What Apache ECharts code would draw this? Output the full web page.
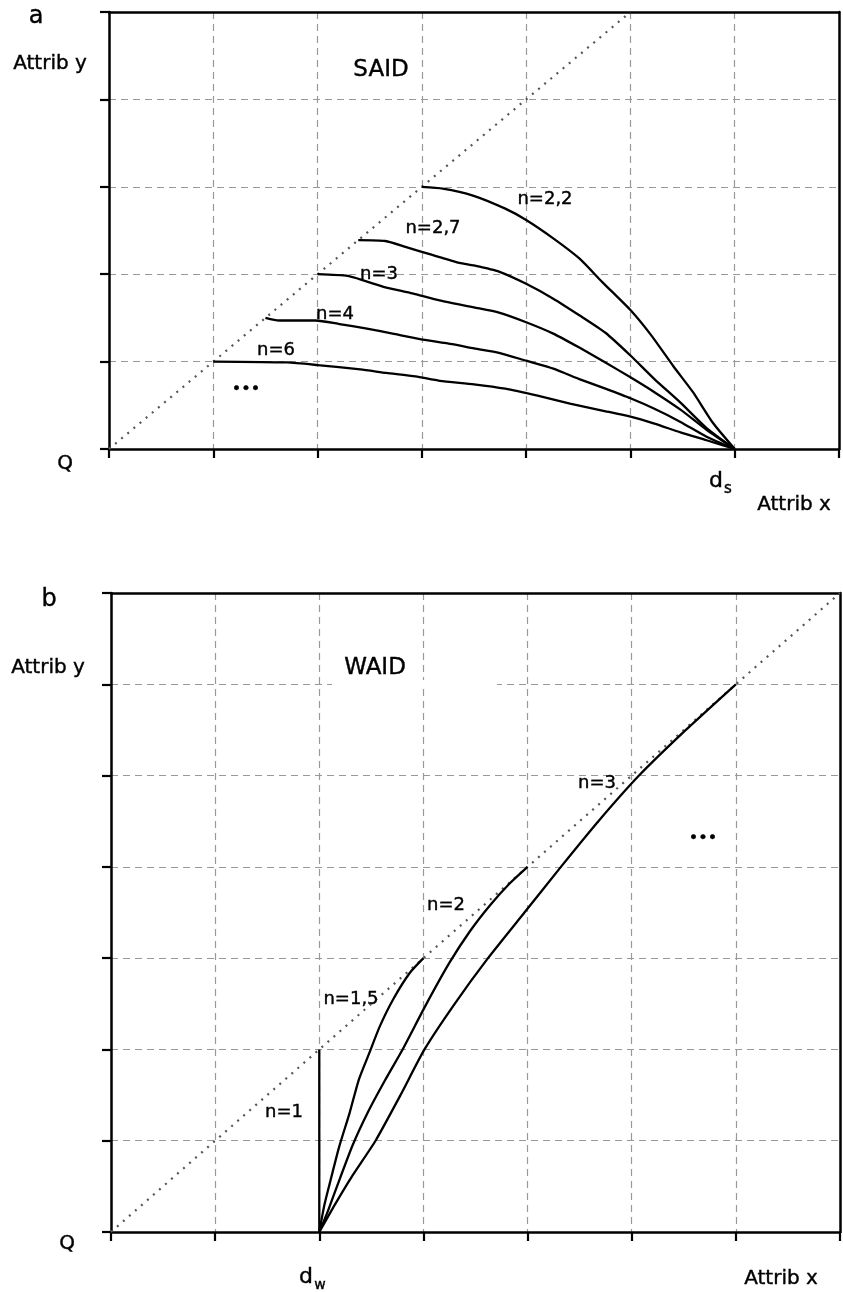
<!DOCTYPE html>
<html>
<head>
<meta charset="utf-8">
<script src="https://cdn.jsdelivr.net/npm/echarts@6/dist/echarts.min.js"></script>
<style>
  html, body { margin: 0; padding: 0; background: #fff; }
  #chart { width: 843px; height: 1292px; }
</style>
</head>
<body>
<div id="chart"></div>
<script>
// panel a (SAID): curves from the diagonal down to d_s = 6
const saidDiagonal = [[0, 0], [5, 5]]
const saidN22 = [[3, 3], [3.2, 2.98], [3.49, 2.9], [3.8, 2.75], [4, 2.62], [4.26, 2.41], [4.51, 2.18], [4.73, 1.91], [5, 1.59], [5.2, 1.3], [5.41, 0.95], [5.6, 0.65], [5.79, 0.3], [6, 0]]
const saidN27 = [[2.39, 2.39], [2.65, 2.38], [2.85, 2.31], [3.1, 2.22], [3.36, 2.13], [3.5, 2.1], [3.74, 2.03], [4, 1.89], [4.26, 1.72], [4.51, 1.53], [4.76, 1.33], [5, 1.07], [5.23, 0.8], [5.48, 0.53], [5.73, 0.24], [6, 0]]
const saidN3 = [[2, 2], [2.29, 1.98], [2.46, 1.92], [2.65, 1.85], [2.91, 1.78], [3.17, 1.7], [3.5, 1.62], [3.74, 1.56], [4, 1.45], [4.26, 1.32], [4.51, 1.16], [4.76, 0.99], [5, 0.82], [5.23, 0.65], [5.48, 0.45], [5.73, 0.22], [6, 0]]
const saidN4 = [[1.5, 1.5], [1.63, 1.47], [1.98, 1.47], [2.21, 1.43], [2.46, 1.38], [2.72, 1.32], [2.97, 1.26], [3.29, 1.2], [3.5, 1.15], [3.74, 1.1], [4, 1.01], [4.26, 0.92], [4.51, 0.8], [4.76, 0.69], [5, 0.58], [5.23, 0.46], [5.48, 0.31], [5.73, 0.14], [6, 0]]
const saidN6 = [[1, 1], [1.71, 0.99], [2, 0.96], [2.41, 0.91], [2.66, 0.87], [2.94, 0.83], [3.17, 0.78], [3.5, 0.74], [3.8, 0.69], [4.11, 0.61], [4.42, 0.52], [4.73, 0.44], [5, 0.37], [5.23, 0.29], [5.48, 0.19], [5.73, 0.1], [6, 0]]

// panel b (WAID): curves from d_w = 2 up to the diagonal
const waidDiagonal = [[0, 0], [7, 7]]
const waidN1 = [[2, 0], [2, 2]]
const waidN15 = [[2, 0], [2.05, 0.3], [2.1, 0.53], [2.19, 0.93], [2.29, 1.3], [2.38, 1.67], [2.48, 1.96], [2.58, 2.25], [2.71, 2.55], [2.87, 2.84], [3, 3]]
const waidN2 = [[2, 0], [2.08, 0.22], [2.17, 0.5], [2.32, 0.95], [2.47, 1.32], [2.63, 1.66], [2.8, 2], [3.02, 2.48], [3.25, 2.95], [3.45, 3.3], [3.64, 3.58], [3.83, 3.82], [4, 4]]
const waidN3 = [[2, 0], [2.15, 0.3], [2.32, 0.62], [2.54, 1], [2.78, 1.5], [3.01, 2], [3.3, 2.5], [3.62, 3], [3.97, 3.5], [4.32, 4], [4.68, 4.5], [5.07, 5], [5.52, 5.5], [6, 6]]

const FONT = 'DejaVu Sans'

const chart = echarts.init(document.getElementById('chart'))

function axis (gridIndex, max, position) {
  return {
    type: 'value',
    gridIndex,
    position,
    min: 0,
    max,
    interval: 1,
    axisLine: { onZero: false, lineStyle: { color: '#000', width: 2.5 } },
    axisTick: { length: 9, lineStyle: { color: '#000', width: 2.2 } },
    axisLabel: { show: false },
    splitLine: { show: true, lineStyle: { color: '#999', width: 1.2, type: [7, 5] } }
  }
}

// plain solid line for the top / right frame
function frame (gridIndex, max, position) {
  return {
    type: 'value',
    gridIndex,
    position,
    min: 0,
    max,
    interval: 1,
    axisLine: { onZero: false, lineStyle: { color: '#000', width: 2.5 } },
    axisTick: { show: false },
    axisLabel: { show: false },
    splitLine: { show: false }
  }
}

function curve (data, xi, smooth) {
  return {
    type: 'line',
    xAxisIndex: xi * 2,
    yAxisIndex: xi * 2,
    data,
    smooth: smooth === undefined ? 0.2 : smooth,
    showSymbol: false,
    silent: true,
    z: 3,
    lineStyle: { color: '#000', width: 2.3 }
  }
}

function diag (data, xi) {
  return {
    type: 'line',
    xAxisIndex: xi * 2,
    yAxisIndex: xi * 2,
    data,
    showSymbol: false,
    silent: true,
    lineStyle: { color: '#555', width: 2.2, type: [2, 6] }
  }
}

function txt (text, x, y, size, extra) {
  return Object.assign({
    type: 'text',
    x,
    y,
    z: 10,
    style: {
      text,
      fill: '#000',
      fontSize: size,
      fontFamily: FONT,
      align: 'center',
      verticalAlign: 'middle',
      stroke: '#000',
      lineWidth: 0.4
    }
  }, extra || {})
}

const options = {
  backgroundColor: '#fff',
  animation: false,
  grid: [
    { left: 109, top: 12, width: 730, height: 437 },
    { left: 111, top: 593, width: 729, height: 639 }
  ],
  xAxis: [axis(0, 7, 'bottom'), frame(0, 7, 'top'), axis(1, 7, 'bottom'), frame(1, 7, 'top')],
  yAxis: [axis(0, 5, 'left'), frame(0, 5, 'right'), axis(1, 7, 'left'), frame(1, 7, 'right')],
  series: [
    diag(saidDiagonal, 0),
    curve(saidN22, 0),
    curve(saidN27, 0),
    curve(saidN3, 0),
    curve(saidN4, 0),
    curve(saidN6, 0),
    diag(waidDiagonal, 1),
    curve(waidN1, 1, false),
    curve(waidN15, 1),
    curve(waidN2, 1),
    curve(waidN3, 1)
  ],
  graphic: [
    // gap in the top grid line of panel b behind the WAID title
    { type: 'rect', z: 5, shape: { x: 332, y: 680, width: 165, height: 6 }, style: { fill: '#fff' } },

    txt('a', 36, 17, 24),
    txt('Attrib y', 50, 64, 20),
    txt('SAID', 381, 70, 23),
    txt('Q', 65, 464, 20),
    txt('d', 716, 481, 22),
    txt('s', 728, 489, 15),
    txt('Attrib x', 794, 505, 20),
    txt('n=2,2', 545, 199, 18),
    txt('n=2,7', 433, 228, 18),
    txt('n=3', 379, 274, 18),
    txt('n=4', 335, 314, 18),
    txt('n=6', 276, 350, 18),
    txt('•••', 246, 390, 16),

    txt('b', 49, 600, 24),
    txt('Attrib y', 48, 668, 20),
    txt('WAID', 375, 668, 23),
    txt('Q', 67, 1244, 20),
    txt('d', 306, 1277, 22),
    txt('w', 320, 1285, 14),
    txt('Attrib x', 781, 1279, 20),
    txt('n=1', 284, 1112, 18),
    txt('n=1,5', 351, 999, 18),
    txt('n=2', 446, 905, 18),
    txt('n=3', 597, 783, 18),
    txt('•••', 703, 839, 16)
  ]
}

chart.setOption(options)
</script>
</body>
</html>
